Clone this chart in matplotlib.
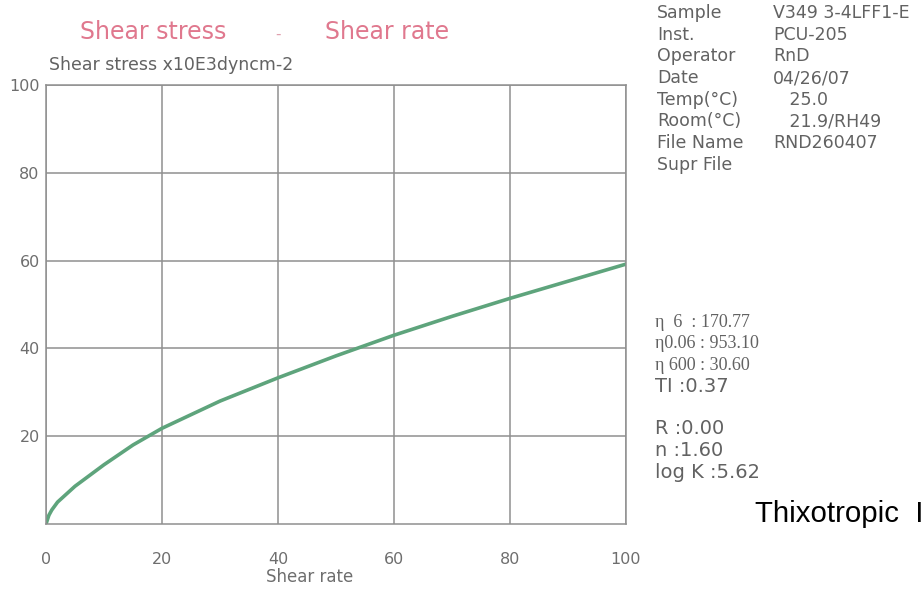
import matplotlib.pyplot as plt

# shear rate vs shear stress
shear_rate = [0, 0.5, 1, 2, 5, 10, 15, 20, 30, 40, 50, 60, 70, 80, 90, 100]
shear_stress = [0, 2.0, 3.2, 5.0, 8.6, 13.5, 18.0, 21.8, 28.0, 33.3, 38.3, 43.0, 47.3, 51.4, 55.3, 59.2]

x_ticks = [0, 20, 40, 60, 80, 100]
y_ticks = [20, 40, 60, 80, 100]

info_labels = ['Sample', 'Inst.', 'Operator', 'Date', 'Temp(°C)', 'Room(°C)', 'File Name', 'Supr File']
info_values = ['V349 3-4LFF1-E', 'PCU-205', 'RnD', '04/26/07', '   25.0', '   21.9/RH49', 'RND260407', '']

eta_lines = ['η  6  : 170.77', 'η0.06 : 953.10', 'η 600 : 30.60']
fit_lines = ['R :0.00', 'n :1.60', 'log K :5.62']

plt.rcParams['font.family'] = ['DejaVu Sans']
grid_col = '#8f8f8f'
text_col = '#626262'

W, H = 923, 589
fig = plt.figure(figsize=(W / 100, H / 100), dpi=100)
ax = fig.add_axes([46/W, 1 - 524/H, 580/W, 439/H])

ax.plot(shear_rate, shear_stress, color='#5ea47c', linewidth=2.6, solid_capstyle='round')

ax.set_xlim(0, 100)
ax.set_ylim(0, 100)
ax.set_xticks(x_ticks)
ax.set_yticks(y_ticks)
ax.grid(True, color=grid_col, linewidth=1.1)
ax.tick_params(length=0, labelcolor='#6e6e6e', labelsize=11.5)
ax.tick_params(axis='x', pad=20)
ax.tick_params(axis='y', pad=4.5)
for s in ax.spines.values():
    s.set_color(grid_col)
    s.set_linewidth(1.1)


def px(x, y):
    # pixel position (from top-left) -> figure fraction
    return x / W, 1 - y / H


# title and axis captions
fig.text(*px(80, 32), 'Shear stress', color='#e0788e', fontsize=17, va='center', ha='left')
fig.text(*px(278, 34), '-', color='#e0a0ae', fontsize=11, va='center', ha='center')
fig.text(*px(325, 32), 'Shear rate', color='#e0788e', fontsize=17, va='center', ha='left')
fig.text(*px(49, 65), 'Shear stress x10E3dyncm-2', color=text_col, fontsize=12.5, va='center')
fig.text(*px(310, 577), 'Shear rate', color='#6e6e6e', fontsize=12, va='center', ha='center')

# sample info block
for i, (lab, val) in enumerate(zip(info_labels, info_values)):
    y = 13 + 21.7 * i
    fig.text(*px(657, y), lab, color=text_col, fontsize=12.5, va='center')
    fig.text(*px(773, y), val, color=text_col, fontsize=12.5, va='center')

for i, line in enumerate(eta_lines):
    fig.text(*px(655, 322 + 21.5 * i), line, color=text_col, fontsize=13,
             family=['Liberation Serif', 'DejaVu Serif'], va='center')
fig.text(*px(655, 386), 'TI :0.37', color=text_col, fontsize=14, va='center')

for i, line in enumerate(fit_lines):
    fig.text(*px(655, 428 + 22 * i), line, color=text_col, fontsize=14, va='center')

# runs off the right edge, as in the scan
fig.text(*px(755, 522), 'Thixotropic  Index', color='black', fontsize=21.2,
         family=['Liberation Sans', 'DejaVu Sans'], va='baseline')

fig.savefig('out.png', dpi=100)
